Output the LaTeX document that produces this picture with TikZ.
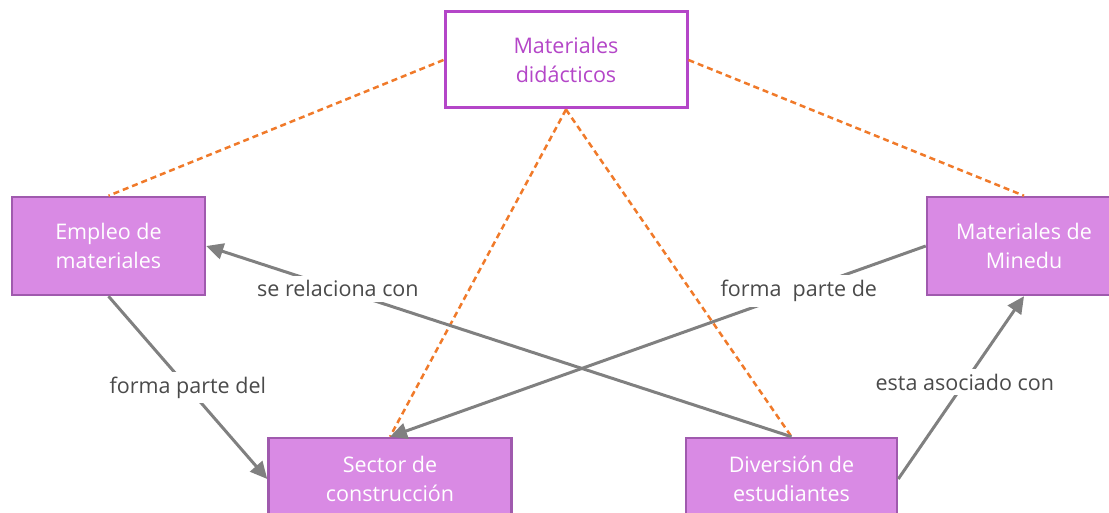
\documentclass[tikz,border=0pt]{standalone}
\usepackage{fontspec}
\setmainfont{Open Sans}
\usetikzlibrary{arrows.meta,calc}
\definecolor{boxfill}{HTML}{D98AE4}
\definecolor{boxline}{HTML}{A05AAE}
\definecolor{topline}{HTML}{B446C8}
\definecolor{dashor}{HTML}{F07A2A}
\definecolor{conn}{HTML}{808080}
\definecolor{labtext}{HTML}{4A4A4A}
\tikzset{
  concept/.style={draw=boxline, line width=2.5pt, fill=boxfill, text=white, align=center,
    font=\fontsize{21.5}{29}\selectfont, inner sep=0pt},
  topbox/.style={draw=topline, line width=3pt, fill=white, text=topline, align=center,
    font=\fontsize{21.5}{29}\selectfont, inner sep=0pt},
  linklab/.style={fill=white, text=labtext, font=\fontsize{21.5}{25}\selectfont, inner sep=5pt},
  dashlink/.style={draw=dashor, line width=2.5pt, dash pattern=on 6pt off 4pt},
  arrowlink/.style={draw=conn, line width=3pt, -{Triangle[length=17pt,width=16pt]}}
}
\begin{document}
\begin{tikzpicture}[x=1pt,y=-1pt]
\useasboundingbox (0,0) rectangle (1109,513);
\node[topbox, minimum width=242pt, minimum height=96pt] (top) at (566,60) {Materiales\\didácticos};
\node[concept, minimum width=193pt, minimum height=98pt] (emp) at (108.5,246) {Empleo de\\materiales};
\node[concept, minimum width=194pt, minimum height=98pt] (min) at (1024,246) {Materiales de\\Minedu};
\node[concept, minimum width=243pt, minimum height=82pt] (sec) at (390,479) {Sector de\\construcción};
\node[concept, minimum width=211pt, minimum height=82pt] (div) at (791.5,479) {Diversión de\\estudiantes};
% dashed links
\draw[dashlink] (top.west) -- (emp.north);
\draw[dashlink] (top.east) -- (min.north);
\draw[dashlink] (top.south) -- (sec.north);
\draw[dashlink] (top.south) -- (div.north);
% arrows
\draw[arrowlink] (emp.south) -- node[linklab, pos=0.5] (l1) {forma parte del} (sec.west);
\draw[arrowlink] (div.north) -- node[linklab, pos=0.775] (l2) {se relaciona con} (emp.east);
\draw[arrowlink] (min.west) -- node[linklab, pos=0.237] (l3) {forma\ \ parte de} (sec.north);
\draw[arrowlink] (div.east) -- node[linklab, pos=0.53] (l4) {esta asociado con} (min.south);
\end{tikzpicture}
\end{document}
